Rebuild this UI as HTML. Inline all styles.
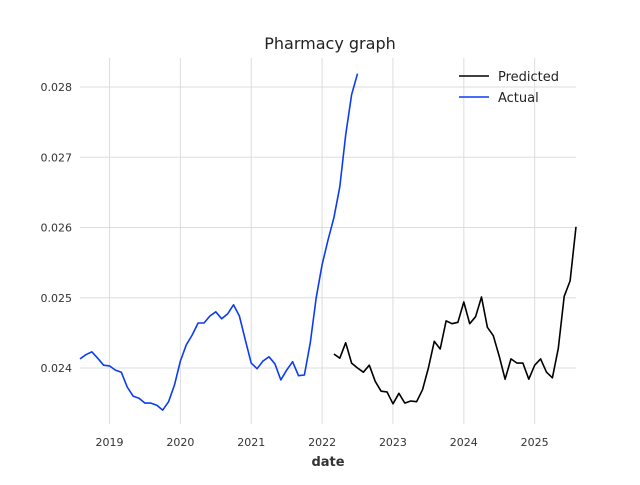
<!DOCTYPE html>
<html><head><meta charset="utf-8"><style>
body{margin:0;background:#fff;font-family:"Liberation Sans","DejaVu Sans",sans-serif}
</style></head><body>
<svg id="chart" width="640" height="480" xmlns="http://www.w3.org/2000/svg" font-family="DejaVu Sans, Liberation Sans, sans-serif">
<rect width="640" height="480" fill="#fff"/>
<g id="grid"></g>
<g id="ticks"></g>
<text x="330" y="49" text-anchor="middle" font-size="16" fill="#222">Pharmacy graph</text>
<text x="328" y="466" text-anchor="middle" font-size="13" font-weight="bold" fill="#333">date</text>
<g id="series"></g>
<g>
<line x1="459" y1="76" x2="489" y2="76" stroke="#000" stroke-width="1.6"/>
<text x="498" y="81" font-size="13" fill="#222">Predicted</text>
<line x1="459" y1="97" x2="489" y2="97" stroke="#0b3cf5" stroke-width="1.6"/>
<text x="498" y="102" font-size="13" fill="#222">Actual</text>
</g>
</svg>
<script>
const actualStart = 2018 + 7/12;
const actualValues = [0.02413,0.02419,0.02423,0.02414,0.02404,0.02403,0.02397,0.02394,0.02373,0.02360,0.02357,0.02350,0.02350,0.02347,0.02340,0.02352,0.02376,0.02410,0.02433,0.02447,0.02464,0.02464,0.02474,0.02480,0.02470,0.02477,0.02490,0.02474,0.02440,0.02407,0.02399,0.02410,0.02416,0.02406,0.02383,0.02397,0.02409,0.02389,0.02390,0.02436,0.02500,0.02547,0.02582,0.02614,0.02658,0.02732,0.02789,0.02819];
const predStart = 2022 + 2/12;
const predValues = [0.02420,0.02414,0.02436,0.02407,0.02400,0.02394,0.02404,0.02381,0.02367,0.02366,0.02349,0.02364,0.02350,0.02353,0.02352,0.02369,0.02400,0.02438,0.02427,0.02467,0.02463,0.02465,0.02494,0.02463,0.02473,0.02501,0.02458,0.02446,0.02417,0.02384,0.02413,0.02407,0.02407,0.02384,0.02404,0.02413,0.02394,0.02386,0.02428,0.02502,0.02524,0.02601];
const xTicks = [2019,2020,2021,2022,2023,2024,2025];
const yTicks = [0.024,0.025,0.026,0.027,0.028];

const X0=80,X1=576,T0=2018+7/12,T1=2025+7/12;
const x = t => X0+(t-T0)/(T1-T0)*(X1-X0);
const y = v => 368-(v-0.024)/0.004*(368-87);
const NS="http://www.w3.org/2000/svg";
const grid=document.getElementById('grid'), ticks=document.getElementById('ticks'), series=document.getElementById('series');
function mk(tag,attrs,parent){const e=document.createElementNS(NS,tag);for(const k in attrs)e.setAttribute(k,attrs[k]);parent.appendChild(e);return e;}
xTicks.forEach(t=>{
  const l=mk('line',{x1:x(t),x2:x(t),y1:58,y2:424,stroke:'#ddd','stroke-width':1},grid);
  
  
  const tx=mk('text',{x:x(t),y:446,'text-anchor':'middle','font-size':11,fill:'#333'},ticks);
  tx.textContent=t;
  
  
});
yTicks.forEach(v=>{
  const l=mk('line',{x1:80,x2:576,y1:y(v),y2:y(v),stroke:'#ddd','stroke-width':1},grid);
  
  
  const tx=mk('text',{x:72,y:y(v)+4,'text-anchor':'end','font-size':11,fill:'#333'},ticks);
  tx.textContent=v.toFixed(3);
  
  
});
function line(start,vals,color,name){
  const pts=vals.map((v,i)=>x(start+i/12).toFixed(1)+','+y(v).toFixed(1)).join(' ');
  const p=mk('polyline',{points:pts,fill:'none',stroke:color,'stroke-width':1.6,'stroke-linejoin':'round'},series);
  
  
}
line(actualStart,actualValues,'#0b3cf5','actual-line');
line(predStart,predValues,'#000','predicted-line');
</script>
</body></html>
